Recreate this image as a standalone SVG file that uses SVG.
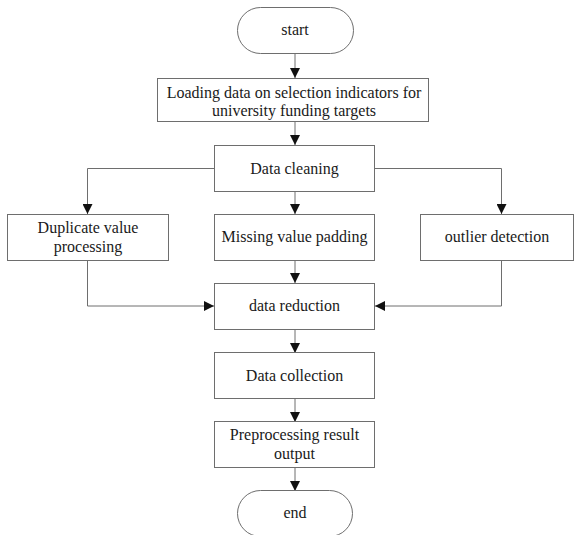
<svg xmlns="http://www.w3.org/2000/svg" width="575" height="535" viewBox="0 0 575 535">
<defs>
<style>
.box{fill:#fff;stroke:#6e6e6e;stroke-width:1}
.t{font-family:"Liberation Serif","Times New Roman",serif;font-size:16px;fill:#1a1a1a;text-anchor:middle}
.c{fill:none;stroke:#6e6e6e;stroke-width:1}
</style>
<marker id="ah" markerUnits="userSpaceOnUse" markerWidth="10" markerHeight="10" refX="10" refY="5" orient="auto" viewBox="0 0 10 10">
<path d="M0,0 L10,5 L0,10 z" fill="#111"/>
</marker>
</defs>
<rect width="575" height="535" fill="#fff"/>
<g id="connectors">
<path class="c" d="M295,53 V78" marker-end="url(#ah)"/>
<path class="c" d="M295,122 V145" marker-end="url(#ah)"/>
<path class="c" d="M295,192 V214" marker-end="url(#ah)"/>
<path class="c" d="M214,168.5 H87.5 V214" marker-end="url(#ah)"/>
<path class="c" d="M375,168.5 H501.5 V214" marker-end="url(#ah)"/>
<path class="c" d="M295,260 V283" marker-end="url(#ah)"/>
<path class="c" d="M87.5,260 V306 H214" marker-end="url(#ah)"/>
<path class="c" d="M501.5,260 V306 H375" marker-end="url(#ah)"/>
<path class="c" d="M295,329 V353" marker-end="url(#ah)"/>
<path class="c" d="M295,398 V422" marker-end="url(#ah)"/>
<path class="c" d="M295,467 V491" marker-end="url(#ah)"/>
</g>
<g id="start">
<rect class="box" x="237.5" y="7.5" width="116" height="46" rx="23" ry="23"/>
<text class="t" x="295" y="35">start</text>
</g>
<g id="loading">
<rect class="box" x="157.5" y="78.5" width="271" height="43"/>
<text class="t" x="294" y="98">Loading data on selection indicators for</text>
<text class="t" x="294" y="116">university funding targets</text>
</g>
<g id="cleaning">
<rect class="box" x="214.5" y="145.5" width="160" height="46"/>
<text class="t" x="294.5" y="174">Data cleaning</text>
</g>
<g id="duplicate">
<rect class="box" x="7.5" y="214.5" width="161" height="46"/>
<text class="t" x="88" y="233">Duplicate value</text>
<text class="t" x="88" y="252">processing</text>
</g>
<g id="missing">
<rect class="box" x="214.5" y="214.5" width="160" height="46"/>
<text class="t" x="294.5" y="242">Missing value padding</text>
</g>
<g id="outlier">
<rect class="box" x="420.5" y="214.5" width="153" height="46"/>
<text class="t" x="497" y="242">outlier detection</text>
</g>
<g id="reduction">
<rect class="box" x="214.5" y="283.5" width="160" height="46"/>
<text class="t" x="294.5" y="311">data reduction</text>
</g>
<g id="collection">
<rect class="box" x="214.5" y="352.5" width="160" height="46"/>
<text class="t" x="294.5" y="381">Data collection</text>
</g>
<g id="preprocessing">
<rect class="box" x="214.5" y="421.5" width="160" height="46"/>
<text class="t" x="294.5" y="440">Preprocessing result</text>
<text class="t" x="294.5" y="459">output</text>
</g>
<g id="end">
<rect class="box" x="237.5" y="490.5" width="115" height="46" rx="23" ry="23"/>
<text class="t" x="295" y="518">end</text>
</g>
</svg>
